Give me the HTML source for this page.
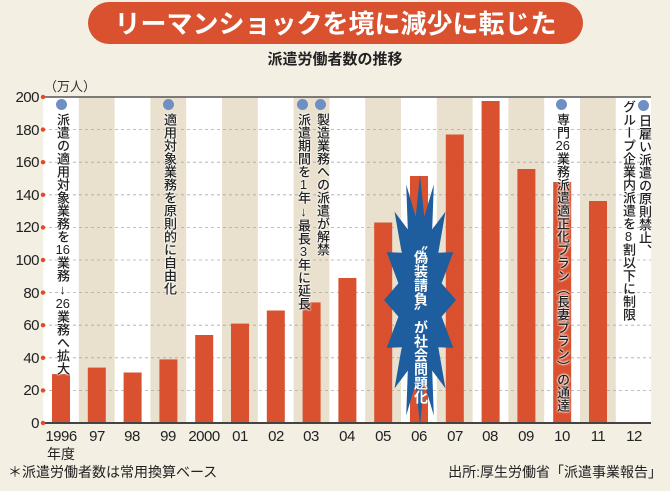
<!DOCTYPE html>
<html><head><meta charset="utf-8"><style>
body{margin:0;width:670px;height:491px;overflow:hidden;background:#f3efe3;font-family:"Liberation Sans","Noto Sans CJK JP",sans-serif;position:relative}
.v{position:absolute;writing-mode:vertical-rl;font-size:13px;line-height:14px;color:#222;font-weight:500;white-space:nowrap}
.v .c{text-combine-upright:all}
.v .u{text-orientation:upright}
.dot{position:absolute;width:11px;height:11px;border-radius:50%;background:#6e8fc4}
.wb{text-shadow:0 0 2px #fff,0 0 2px #fff,0 0 2px #fff}
</style></head><body>
<div style="position:absolute;left:88px;top:2px;width:495px;height:42px;border-radius:21px;background:#d9512f;color:#fff;font-weight:bold;font-size:26px;line-height:42px;text-align:center;white-space:nowrap;font-family:'Noto Sans CJK JP',sans-serif">リーマンショックを境に減少に転じた</div>
<div style="position:absolute;left:0;top:48px;width:670px;text-align:center;font-size:15px;font-weight:bold;color:#222">派遣労働者数の推移</div>
<div style="position:absolute;left:44px;top:76px;font-size:13px;color:#333">（万人）</div>
<svg width="670" height="491" style="position:absolute;left:0;top:0">
<rect x="43" y="97" width="608" height="326" fill="#fff"/>
<g fill="#e9e1cd">
<rect x="78.8" y="97" width="35.8" height="326"/><rect x="150.4" y="97" width="35.8" height="326"/><rect x="222" y="97" width="35.8" height="326"/><rect x="293.6" y="97" width="35.8" height="326"/><rect x="365.2" y="97" width="35.8" height="326"/><rect x="436.8" y="97" width="35.8" height="326"/><rect x="508.4" y="97" width="35.8" height="326"/><rect x="580" y="97" width="35.8" height="326"/>
</g>
<g stroke="#aaa" stroke-dasharray="3,3" stroke-width="0.8">
<line x1="43" x2="651" y1="390.4" y2="390.4"/><line x1="43" x2="651" y1="357.8" y2="357.8"/><line x1="43" x2="651" y1="325.2" y2="325.2"/><line x1="43" x2="651" y1="292.6" y2="292.6"/><line x1="43" x2="651" y1="260" y2="260"/><line x1="43" x2="651" y1="227.4" y2="227.4"/><line x1="43" x2="651" y1="194.8" y2="194.8"/><line x1="43" x2="651" y1="162.2" y2="162.2"/><line x1="43" x2="651" y1="129.6" y2="129.6"/>
</g>
<g fill="#d9512f">
<rect x="52" y="374.1" width="18" height="48.9"/><rect x="87.8" y="367.6" width="18" height="55.4"/><rect x="123.6" y="372.5" width="18" height="50.5"/><rect x="159.4" y="359.4" width="18" height="63.6"/><rect x="195.2" y="335" width="18" height="88"/><rect x="231" y="323.6" width="18" height="99.4"/><rect x="266.8" y="310.5" width="18" height="112.5"/><rect x="302.6" y="302.4" width="18" height="120.6"/><rect x="338.4" y="278" width="18" height="145"/><rect x="374.2" y="222.5" width="18" height="200.5"/><rect x="410" y="176" width="18" height="247"/><rect x="445.8" y="134.5" width="18" height="288.5"/><rect x="481.6" y="101" width="18" height="322"/><rect x="517.4" y="169" width="18" height="254"/><rect x="553.2" y="182" width="18" height="241"/><rect x="589" y="201" width="18" height="222"/>
</g>
<line x1="43" x2="651" y1="97" y2="97" stroke="#555" stroke-width="1.5"/>
<line x1="43" x2="651" y1="423" y2="423" stroke="#444" stroke-width="2"/>
<g fill="#e04a28">
<circle cx="43" cy="97" r="2.2"/><circle cx="43" cy="129.6" r="2.2"/><circle cx="43" cy="162.2" r="2.2"/><circle cx="43" cy="194.8" r="2.2"/><circle cx="43" cy="227.4" r="2.2"/><circle cx="43" cy="260" r="2.2"/><circle cx="43" cy="292.6" r="2.2"/><circle cx="43" cy="325.2" r="2.2"/><circle cx="43" cy="357.8" r="2.2"/><circle cx="43" cy="390.4" r="2.2"/><circle cx="43" cy="423" r="2.2"/>
</g>
<g font-size="15" fill="#222" text-anchor="end" font-family="Liberation Sans, sans-serif" letter-spacing="-0.5">
<text x="39" y="102">200</text><text x="39" y="135">180</text><text x="39" y="167">160</text><text x="39" y="200">140</text><text x="39" y="232">120</text><text x="39" y="265">100</text><text x="39" y="298">80</text><text x="39" y="330">60</text><text x="39" y="363">40</text><text x="39" y="395">20</text><text x="39" y="428">0</text>
</g>
<g font-size="15" fill="#222" text-anchor="middle" font-family="Liberation Sans, sans-serif" letter-spacing="-0.5">
<text x="61" y="441">1996</text><text x="97" y="441">97</text><text x="132" y="441">98</text><text x="168" y="441">99</text><text x="204" y="441">2000</text><text x="240" y="441">01</text><text x="276" y="441">02</text><text x="311" y="441">03</text><text x="347" y="441">04</text><text x="383" y="441">05</text><text x="419" y="441">06</text><text x="455" y="441">07</text><text x="490" y="441">08</text><text x="526" y="441">09</text><text x="562" y="441">10</text><text x="598" y="441">11</text><text x="634" y="441">12</text>
</g>
<text x="61" y="459" font-size="14" text-anchor="middle" fill="#222" font-family="Noto Sans CJK JP, sans-serif">年度</text>
<polygon fill="#1f5e9e" points="456,300 441.6,316.6 453.3,347.9 438.3,347.3 445.5,388.4 432.2,370.6 433.8,415.5 424.3,383.4 420,425 415.7,383.4 406.2,415.5 407.8,370.6 394.5,388.4 401.7,347.3 386.7,347.9 398.4,316.6 384,300 398.4,283.4 386.7,252.1 401.7,252.7 394.5,211.6 407.8,229.4 406.2,184.5 415.7,216.6 420,175 424.3,216.6 433.8,184.5 432.2,229.4 445.5,211.6 438.3,252.7 453.3,252.1 441.6,283.4"/>
</svg>
<div class="v" style="left:413px;top:236px;color:#fff;font-weight:bold;font-size:14px;line-height:15px">〝偽装請負〞が社会問題化</div>
<div class="dot" style="left:56px;top:99px"></div>
<div class="v wb" style="left:55px;top:113px">派遣の適用対象業務を<span class="c">16</span>業務<span class="u">↓</span><span class="c">26</span>業務へ拡大</div>
<div class="dot" style="left:163px;top:99px"></div>
<div class="v wb" style="left:162px;top:113px">適用対象業務を原則的に自由化</div>
<div class="dot" style="left:297px;top:99px"></div>
<div class="v wb" style="left:296px;top:113px">派遣期間を<span class="c">1</span>年<span class="u">↓</span>最長<span class="c">3</span>年に延長</div>
<div class="dot" style="left:315px;top:99px"></div>
<div class="v wb" style="left:315px;top:113px">製造業務への派遣が解禁</div>
<div class="dot" style="left:556px;top:99px"></div>
<div class="v wb" style="left:555px;top:113px">専門<span class="c">26</span>業務派遣適正化プラン（長妻プラン）の通達</div>
<div class="dot" style="left:638px;top:100px"></div>
<div class="v" style="left:637px;top:114px">日雇い派遣の原則禁止、</div>
<div class="v" style="left:621px;top:100px">グループ企業内派遣を<span class="c">8</span>割以下に制限</div>
<div style="position:absolute;left:8px;top:462px;font-size:14px;color:#222">＊派遣労働者数は常用換算ベース</div>
<div style="position:absolute;right:8px;top:462px;font-size:14px;color:#222">出所:厚生労働省「派遣事業報告」</div>
</body></html>
